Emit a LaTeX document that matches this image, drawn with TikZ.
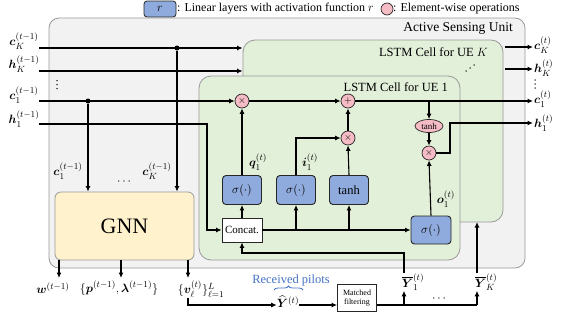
\documentclass[tikz,border=0pt]{standalone}
\usepackage{amsmath}
\usepackage{bm}
\usepackage{fontspec}
\setmainfont{Liberation Serif}
\usetikzlibrary{arrows.meta,shapes.geometric,decorations.pathreplacing,calc}
\definecolor{boxblue}{HTML}{8FAADC}
\definecolor{oppink}{HTML}{F6BCC6}
\definecolor{cellgreen}{HTML}{E2EFD9}
\definecolor{gnnyellow}{HTML}{FFF2CC}
\definecolor{outergray}{HTML}{F2F2F2}
\definecolor{pilotblue}{HTML}{4472C4}
\begin{document}
\begin{tikzpicture}[x=1pt,y=-1pt,
  conn/.style={line width=1.1pt,-{Latex[length=5.5pt,width=5pt]}},
  ln/.style={line width=1.1pt},
  bluebox/.style={draw=black!85,line width=0.9pt,fill=boxblue,rounded corners=3.5pt,minimum width=39pt,minimum height=29pt,inner sep=0pt,font=\fontsize{12.5}{14}\selectfont},
  opc/.style={circle,draw=black!85,line width=0.7pt,fill=oppink,minimum size=14pt,inner sep=0pt,font=\fontsize{10}{10}\selectfont},
  dotc/.style={circle,fill=black,minimum size=5pt,inner sep=0pt},
  lbl/.style={font=\fontsize{13}{15}\selectfont,inner sep=0pt},
  cell/.style={draw=black!40,line width=0.8pt,fill=cellgreen,rounded corners=12pt,inner sep=0pt},
  plainbox/.style={draw=black!85,line width=0.8pt,fill=white,inner sep=0pt}]
\useasboundingbox (0,0) rectangle (561,322);
% legend
\node[draw=black!85,line width=0.8pt,fill=boxblue,rounded corners=3pt,minimum width=32pt,minimum height=16pt,inner sep=0pt,font=\fontsize{12}{14}\selectfont] (leg1) at (160,9) {$r$};
\node[anchor=west,inner sep=0pt,font=\fontsize{12}{14}\selectfont] (leg1t) at (177,9) {: Linear layers with activation function $r$};
\node[circle,draw=black!85,line width=0.7pt,fill=oppink,minimum size=12pt,inner sep=0pt] (leg2) at (387,9) {};
\node[anchor=west,inner sep=0pt,font=\fontsize{12}{14}\selectfont] (leg2t) at (393,9) {: Element-wise operations};
% containers
\node[draw=black!40,line width=0.8pt,fill=outergray,rounded corners=10pt,minimum width=476pt,minimum height=250pt,inner sep=0pt] (outer) at (287,143) {};
\node[anchor=east,inner sep=0pt,font=\fontsize{13.5}{15}\selectfont] (outert) at (513,28) {Active Sensing Unit};
\node[cell,minimum width=260pt,minimum height=182pt] (ueK) at (373,131) {};
\node[anchor=east,inner sep=0pt,font=\fontsize{12.5}{15}\selectfont] (ueKt) at (488,52) {LSTM Cell for UE $K$};
\node[cell,minimum width=261pt,minimum height=184pt] (ue1) at (329.5,168) {};
\node[anchor=east,inner sep=0pt,font=\fontsize{12.5}{15}\selectfont] (ue1t) at (448,87) {LSTM Cell for UE 1};
\node[draw=black!40,line width=0.8pt,fill=gnnyellow,rounded corners=6pt,minimum width=139pt,minimum height=68pt,inner sep=0pt,font=\fontsize{22}{24}\selectfont] (gnn) at (124.5,226) {GNN};
% operators
\node[opc] (fm) at (242,101) {$\times$};
\node[opc] (pl) at (348,101) {$+$};
\node[opc] (im) at (348,138) {$\times$};
\node[ellipse,draw=black!85,line width=0.7pt,fill=oppink,minimum width=28pt,minimum height=13pt,inner sep=0pt,font=\fontsize{9}{10}\selectfont] (th) at (429,126) {tanh};
\node[opc] (om) at (429,153) {$\times$};
\node[bluebox] (s1) at (242,190) {$\sigma(\cdot)$};
\node[bluebox] (s2) at (296,190) {$\sigma(\cdot)$};
\node[bluebox] (tb) at (349,190) {tanh};
\node[bluebox,minimum width=40pt,minimum height=28pt] (so) at (431,230) {$\sigma(\cdot)$};
\node[plainbox,minimum width=40pt,minimum height=24pt,font=\fontsize{11}{12}\selectfont] (cc) at (242,230) {Concat.};
\node[plainbox,minimum width=39pt,minimum height=27pt,align=center,font=\fontsize{8}{9.5}\selectfont] (mf) at (357,298) {Matched\\filtering};
% input labels
\node[lbl] (icK) at (24,41) {$\boldsymbol{c}_K^{(t-1)}$};
\node[lbl] (ihK) at (24,64) {$\boldsymbol{h}_K^{(t-1)}$};
\node[lbl] (ic1) at (24,95) {$\boldsymbol{c}_1^{(t-1)}$};
\node[lbl] (ih1) at (24,119) {$\boldsymbol{h}_1^{(t-1)}$};
\foreach \yy in {80.5,84.5,88.5} {\fill (57,\yy) circle (0.75pt);}
% output labels
\node[lbl,anchor=west] (ocK) at (534,45) {$\boldsymbol{c}_K^{(t)}$};
\node[lbl,anchor=west] (ohK) at (534,68) {$\boldsymbol{h}_K^{(t)}$};
\node[lbl,anchor=west] (oc1) at (534,99) {$\boldsymbol{c}_1^{(t)}$};
\node[lbl,anchor=west] (oh1) at (534,123) {$\boldsymbol{h}_1^{(t)}$};
\foreach \yy in {80,84,88} {\fill (535,\yy) circle (0.75pt);}
\foreach \dx/\dy in {0/0,4/-3,8/-6} {\fill (466+\dx,71+\dy) circle (0.75pt);}
% gate labels
\node[lbl] (ql) at (258,162) {$\boldsymbol{q}_1^{(t)}$};
\node[lbl] (il) at (310,162) {$\boldsymbol{i}_1^{(t)}$};
\node[lbl] (ol) at (446,199) {$\boldsymbol{o}_1^{(t)}$};
\node[lbl] (gc1) at (68,171) {$\boldsymbol{c}_1^{(t-1)}$};
\node[lbl] (gcK) at (157,171) {$\boldsymbol{c}_K^{(t-1)}$};
\node[lbl] (gd) at (125,182) {$\cdots$};
% bottom labels
\node[lbl] (lw) at (53,288) {$\boldsymbol{w}^{(t-1)}$};
\node[lbl] (lp) at (119,288) {$\{\boldsymbol{p}^{(t-1)},\boldsymbol{\lambda}^{(t-1)}\}$};
\node[lbl] (lv) at (201,289) {$\{\boldsymbol{v}_\ell^{(t)}\}_{\ell=1}^{L}$};
\node[lbl] (yh) at (288,302) {$\widehat{\boldsymbol{Y}}^{(t)}$};
\node[lbl,text=pilotblue,font=\fontsize{12.5}{14}\selectfont] (rp) at (291,280) {Received pilots};
\node[lbl] (yb1) at (413,282) {$\overline{\boldsymbol{Y}}_1^{(t)}$};
\node[lbl] (ybK) at (486,282) {$\overline{\boldsymbol{Y}}_K^{(t)}$};
\node[lbl] (bd) at (440,299) {$\cdots$};
% coordinates
\coordinate (cKs) at (39,48);
\coordinate (hKs) at (39,71);
\coordinate (c1s) at (39,101);
\coordinate (h1s) at (39,124);
\coordinate (h1c) at (207,124);
\coordinate (cKd) at (177,48);
\coordinate (c1d) at (88,101);
\coordinate (cKo) at (505,47);
\coordinate (hKo) at (505,69);
\coordinate (cKe) at (533,47);
\coordinate (hKe) at (533,69);
\coordinate (c1e) at (533,101);
\coordinate (h1e) at (533,123);
\coordinate (thb) at (429,101);
\coordinate (omr) at (450,153);
\coordinate (omu) at (450,123);
\coordinate (s2u) at (296,138);
\coordinate (b2) at (296,230);
\coordinate (b3) at (349,230);
\coordinate (g1) at (59,260);
\coordinate (g1e) at (59,278);
\coordinate (g2) at (121,260);
\coordinate (g2e) at (121,278);
\coordinate (g3) at (188,260);
\coordinate (g3e) at (188,278);
\coordinate (vc) at (188,305);
\coordinate (yhe) at (302,305);
\coordinate (mfe) at (477,305);
\coordinate (y1b) at (404,305);
\coordinate (y1c) at (404,253);
\coordinate (ccb) at (242,253);
\coordinate (yKu) at (477,222);
\coordinate (brl) at (274,290);
\coordinate (brr) at (303,290);
% inputs
\draw[conn] (cKs) -- (cKs -| ueK.west);
\draw[conn] (hKs) -- (hKs -| ueK.west);
\draw[conn] (c1s) -- (fm.west);
\draw[conn] (h1s) -- (h1c) -- (h1c |- cc.west) -- (cc.west);
\node[dotc] (dK) at (cKd) {};
\node[dotc] (d1) at (c1d) {};
\draw[conn] (dK) -- (dK |- gnn.north);
\draw[conn] (d1) -- (d1 |- gnn.north);
% cell internals
\draw[conn] (fm.east) -- (pl.west);
\draw[conn] (pl.east) -- (c1e);
\draw[conn] (thb) -- (th.north);
\draw[conn] (th.south) -- (om.north);
\draw[conn] (om.east) -- (omr) -- (omu) -- (h1e);
\draw[conn] (cKo) -- (cKe);
\draw[conn] (hKo) -- (hKe);
\draw[conn] (s1.north) -- (fm.south);
\draw[conn] (s2.north) -- (s2u) -- (im.west);
\draw[conn] (tb.north) -- (im.south);
\draw[conn] (im.north) -- (pl.south);
\draw[conn] (so.north) -- (om.south);
\draw[conn] (cc.north) -- (s1.south);
\draw[conn] (cc.east) -- (so.west);
\draw[conn] (b2) -- (s2.south);
\draw[conn] (b3) -- (tb.south);
% GNN outputs
\draw[conn] (g1) -- (g1e);
\draw[conn] (g2) -- (g2e);
\draw[conn] (g3) -- (g3e);
\draw[conn] (lv.south -| g3) -- (vc) -- (yh.west |- vc);
\draw[conn] (yh.east |- yhe) -- (mf.west |- yhe);
\draw[ln] (mf.east |- mfe) -- (mfe);
\draw[conn] (y1b) -- (yb1.south -| y1b);
\draw[conn] (mfe) -- (ybK.south -| mfe);
\draw[conn] (yb1.north -| y1b) -- (y1c) -- (ccb) -- (cc.south);
\draw[conn] (ybK.north -| mfe) -- (yKu);
\draw[pilotblue,line width=0.8pt,decorate,decoration={brace,amplitude=4pt}] (brl) -- (brr);
\end{tikzpicture}
\end{document}
